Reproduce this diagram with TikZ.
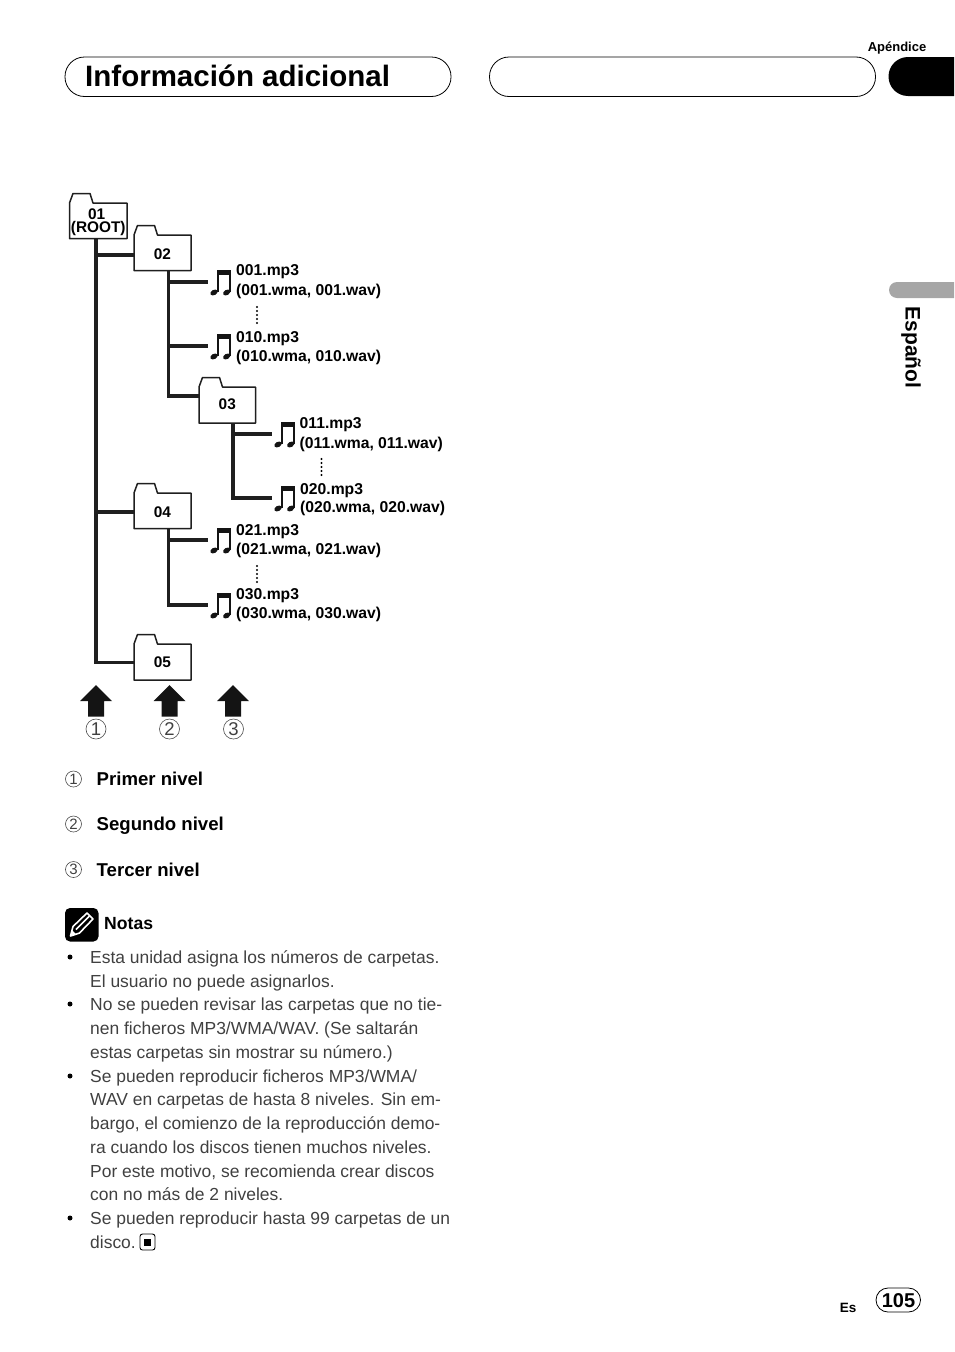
\documentclass[tikz,border=0pt]{standalone}
\usepackage{fontspec}
\setmainfont{Liberation Sans}
\definecolor{lighttext}{gray}{0.25}
\tikzset{
  filetxt/.style={anchor=base west,inner sep=0pt,font=\fontsize{15.7}{15.7}\selectfont\bfseries},
  legendtxt/.style={anchor=base west,inner sep=0pt,font=\fontsize{18.6}{18.6}\selectfont\bfseries},
  notetxt/.style={anchor=base west,inner sep=0pt,text=lighttext,font=\fontsize{17.45}{17.45}\selectfont},
  folderbody/.style={fill=white,inner sep=0pt},
  foldertext/.style={inner sep=0pt,font=\fontsize{15.4}{15.4}\selectfont\bfseries,align=center},
  folderline/.style={draw=black!88,line width=1.5pt,line join=round},
  trunk/.style={draw=black!88,line width=3.3pt,line join=miter},
  notebox/.style={minimum width=26pt,minimum height=26pt,inner sep=0pt},
  pill/.style={draw=black,line width=0.8pt,fill=white},
  circnum/.style={draw=black!70,line width=0.6pt,circle,inner sep=0pt,text=black!75,font=\fontsize{#1}{#1}\selectfont},
  blockarrow/.style={fill=black!92,draw=none},
}
\newcommand\folderbox[7]{% name,x0,y0,x1,y1,text,text dy
  \node[folderbody,minimum width=#4pt-#2pt,minimum height=#5pt-#3pt] (#1) at ({(#2+#4)/2},{(#3+#5)/2}) {};
  \draw[folderline] (#2,#5) -- (#2,#3) -- ++(3.5,-9.5) -- ++(17,0) -- ++(3,9.5) -- (#4,#3) -- (#4,#5) -- cycle;
  \node[foldertext] (#1t) at ([yshift=#7pt]#1.center) {#6};
}
\newcommand\musicnote[3]{% name,x,y
  \node[notebox] (#1) at (#2,#3) {};
  \begin{scope}[shift={(#1.center)}]
    \fill[black!92] (-4.5,-12) rectangle (10.2,-7.5);
    \fill[black!92] (-4.5,-12) rectangle (-2.5,9.5);
    \fill[black!92] (8.2,-12) rectangle (10.2,9.5);
    \fill[black!92,rotate around={30:(-7,10.5)}] (-7,10.5) ellipse (3.9 and 2.6);
    \fill[black!92,rotate around={30:(5.7,10.5)}] (5.7,10.5) ellipse (3.9 and 2.6);
  \end{scope}
}
\newcommand\dotcol[2]{% x,y top
  \foreach \k in {0,1,2,3,4} \fill[black] (#1,#2+4*\k) circle (1.15);
}
\newcommand\blockup[1]{% x
  \fill[blockarrow] (#1,685) -- (#1+16,701) -- (#1+8,701) -- (#1+8,716.5) -- (#1-8,716.5) -- (#1-8,701) -- (#1-16,701) -- cycle;
}
\begin{document}
\begin{tikzpicture}[x=1pt,y=-1pt]
\useasboundingbox (0,0) rectangle (954,1352);
% header
\node[anchor=base,inner sep=0pt,font=\fontsize{13}{13}\selectfont\bfseries] (apendice) at (897,51) {Apéndice};
\draw[pill,rounded corners=19.5pt] (65,57) rectangle (451,96.5);
\draw[pill,rounded corners=19.5pt] (489.5,57) rectangle (875.5,96.5);
\node[anchor=base west,inner sep=0pt,font=\fontsize{29.5}{29.5}\selectfont\bfseries] (titulo) at (85,86) {Información adicional};
\fill[black] (954,57) [rounded corners=19.5pt] -- (888.5,57) -- (888.5,96) [sharp corners] -- (954,96) -- cycle;
\fill[black!35] (954,282) [rounded corners=8pt] -- (889,282) -- (889,298) [sharp corners] -- (954,298) -- cycle;
\node[rotate=-90,anchor=base west,inner sep=0pt,font=\fontsize{21}{21}\selectfont\bfseries] (espanol) at (905.5,306.5) {Español};

% folders
\folderbox{f01}{69.5}{203}{127}{238.5}{\hspace*{-3pt}01\\[-2pt](ROOT)}{-1.5}
\folderbox{f02}{134}{235}{191}{270.5}{02}{-1.5}
\folderbox{f03}{199}{387}{255.5}{423}{03}{1}
\folderbox{f04}{134}{493}{191}{528.5}{04}{-1}
\folderbox{f05}{134}{644}{191}{680}{05}{0}

% notes
\musicnote{n001}{221}{282}
\musicnote{n010}{221}{346}
\musicnote{n011}{285}{434}
\musicnote{n020}{285}{498}
\musicnote{n021}{221}{540}
\musicnote{n030}{221}{605}

% connectors
\coordinate (t1) at (96,238.5);
\coordinate (t2) at (168.5,270.5);
\coordinate (t3) at (233,423);
\coordinate (t4) at (168.5,528.5);
\coordinate (j02) at (134,255);
\coordinate (j03) at (199,396);
\coordinate (j04) at (134,512);
\coordinate (j05) at (134,662.5);
\draw[trunk] (t1) |- (j05);
\draw[trunk] (t1 |- j02) -- (j02);
\draw[trunk] (t1 |- j04) -- (j04);
\draw[trunk] (t2) |- (j03);
\draw[trunk] (t2 |- n001.west) -- (n001.west);
\draw[trunk] (t2 |- n010.west) -- (n010.west);
\draw[trunk] (t3) |- (n020.west);
\draw[trunk] (t3 |- n011.west) -- (n011.west);
\draw[trunk] (t4) |- (n030.west);
\draw[trunk] (t4 |- n021.west) -- (n021.west);

% file labels
\node[filetxt] (l1a) at (236,275.5) {001.mp3};
\node[filetxt] (l1b) at (236,295) {(001.wma, 001.wav)};
\node[filetxt] (l2a) at (236,342) {010.mp3};
\node[filetxt] (l2b) at (236,361) {(010.wma, 010.wav)};
\node[filetxt] (l3a) at (299.5,428.5) {011.mp3};
\node[filetxt] (l3b) at (299.5,448) {(011.wma, 011.wav)};
\node[filetxt] (l4a) at (300,494) {020.mp3};
\node[filetxt] (l4b) at (300,512.5) {(020.wma, 020.wav)};
\node[filetxt] (l5a) at (236,535) {021.mp3};
\node[filetxt] (l5b) at (236,554) {(021.wma, 021.wav)};
\node[filetxt] (l6a) at (236,599) {030.mp3};
\node[filetxt] (l6b) at (236,618.5) {(030.wma, 030.wav)};
\dotcol{257}{307}
\dotcol{321.5}{459}
\dotcol{257}{566}

% arrows
\blockup{96}
\blockup{169.5}
\blockup{233}
\node[circnum=18.5,minimum size=20pt] (c1) at (96,729) {1};
\node[circnum=18.5,minimum size=20pt] (c2) at (169.5,729) {2};
\node[circnum=18.5,minimum size=20pt] (c3) at (233.5,729) {3};

% legend
\node[circnum=15,minimum size=16pt] (k1) at (73.5,779) {1};
\node[circnum=15,minimum size=16pt] (k2) at (73.5,824) {2};
\node[circnum=15,minimum size=16pt] (k3) at (73.5,869.5) {3};
\node[legendtxt] (p1) at (96.5,785) {Primer nivel};
\node[legendtxt] (p2) at (96.5,830) {Segundo nivel};
\node[legendtxt] (p3) at (96.5,876) {Tercer nivel};

% notas icon
\fill[black,rounded corners=5pt] (65,908) rectangle (98.5,941.5);
\draw[white,line width=1.6pt,line join=round] (70.5,936) -- (73,926.5) -- (87,913) -- (93,919) -- (79.5,933) -- cycle;
\draw[white,line width=1.6pt] (76,929.5) -- (89.5,916);
\fill[white] (70.5,936) -- (72,930) -- (76.5,934.5) -- cycle;
\node[anchor=base west,inner sep=0pt,font=\fontsize{17.6}{17.6}\selectfont\bfseries] (notas) at (104,929) {Notas};

% notes text
\foreach \yy in {957,1004,1076,1218} \fill[black] (70,\yy) circle (2.5);
\node[notetxt] at (90,963) {Esta unidad asigna los números de carpetas.};
\node[notetxt] at (90,987) {El usuario no puede asignarlos.};
\node[notetxt] at (90,1010) {No se pueden revisar las carpetas que no tie-};
\node[notetxt] at (90,1034) {nen ficheros MP3/WMA/WAV. (Se saltarán};
\node[notetxt] at (90,1058) {estas carpetas sin mostrar su número.)};
\node[notetxt] at (90,1082) {Se pueden reproducir ficheros MP3/WMA/};
\node[notetxt] at (90,1105) {WAV en carpetas de hasta 8 niveles. Sin em-};
\node[notetxt] at (90,1129) {bargo, el comienzo de la reproducción demo-};
\node[notetxt] at (90,1153) {ra cuando los discos tienen muchos niveles.};
\node[notetxt] at (90,1177) {Por este motivo, se recomienda crear discos};
\node[notetxt] at (90,1200) {con no más de 2 niveles.};
\node[notetxt] at (90,1224) {Se pueden reproducir hasta 99 carpetas de un};
\node[notetxt] at (90,1248) {disco.};
\draw[black,line width=0.9pt,rounded corners=2.5pt] (140,1234) rectangle (155,1250);
\fill[black] (144,1238.5) rectangle (151,1245.5);

% page number
\node[anchor=base,inner sep=0pt,font=\fontsize{13.5}{13.5}\selectfont\bfseries] (es) at (848,1312) {Es};
\draw[pill,rounded corners=12pt] (876,1288) rectangle (920.5,1312);
\node[anchor=base,inner sep=0pt,font=\fontsize{20}{20}\selectfont\bfseries] (page) at (898.5,1307) {105};
\end{tikzpicture}
\end{document}
